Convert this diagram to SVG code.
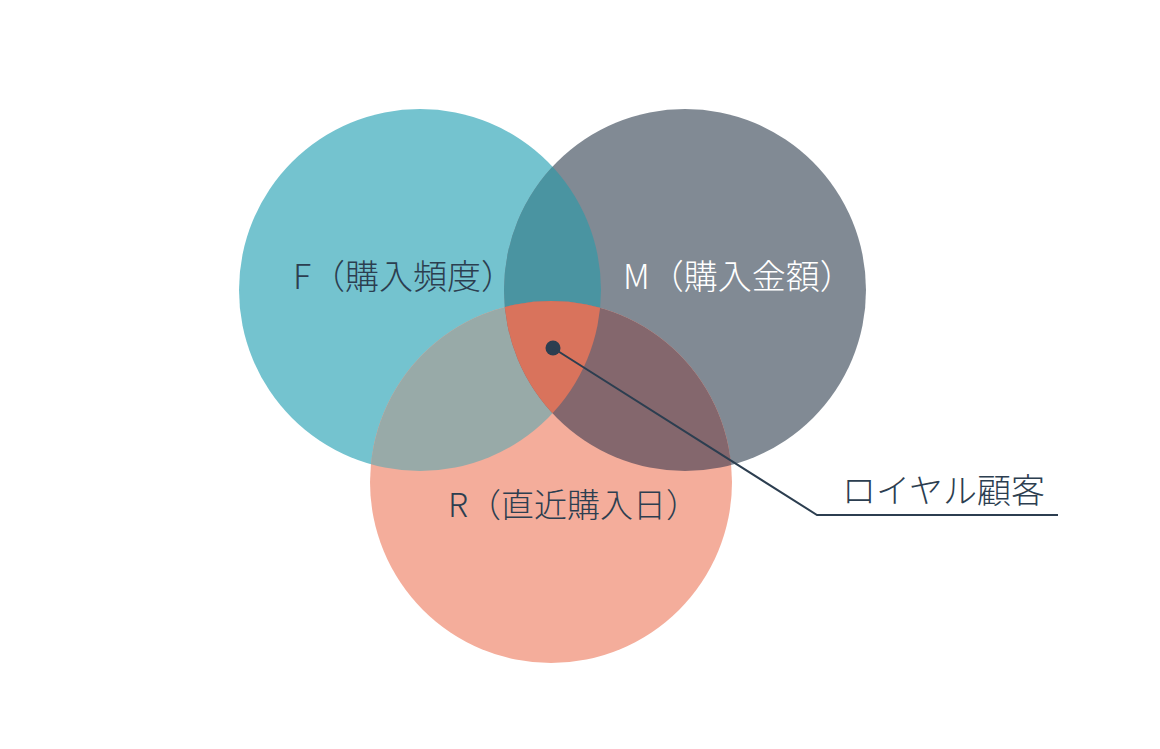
<svg xmlns="http://www.w3.org/2000/svg" width="1160" height="749" viewBox="0 0 1160 749">
<style>
.lbl{font-family:"Noto Sans CJK JP","Noto Sans",sans-serif;font-size:34px;font-weight:300}
.dark{fill:#2C3E50}
.light{fill:#FFFFFF}
</style>
<defs>
<clipPath id="cF"><circle cx="420" cy="290" r="181"/></clipPath>
<clipPath id="cM"><circle cx="685" cy="290" r="181"/></clipPath>
<clipPath id="cR"><circle cx="551" cy="482" r="181"/></clipPath>
</defs>
<rect width="1160" height="749" fill="#FFFFFF"/>
<g id="circle-F"><circle cx="420" cy="290" r="181" fill="#74C3CF"/></g>
<g id="circle-M"><circle cx="685" cy="290" r="181" fill="#818A94"/></g>
<g id="circle-R"><circle cx="551" cy="482" r="181" fill="#F4AD9B"/></g>
<g id="overlap-FM" clip-path="url(#cF)"><circle cx="685" cy="290" r="181" fill="#4A94A1"/></g>
<g id="overlap-FR" clip-path="url(#cF)"><circle cx="551" cy="482" r="181" fill="#98AAA8"/></g>
<g id="overlap-MR" clip-path="url(#cM)"><circle cx="551" cy="482" r="181" fill="#84676D"/></g>
<g id="overlap-FMR" clip-path="url(#cF)"><g clip-path="url(#cM)"><circle cx="551" cy="482" r="181" fill="#D9735C"/></g></g>
<g id="label-F"><text class="lbl dark" x="293" y="289">F（購入頻度）</text></g>
<g id="label-M"><text class="lbl light" x="623" y="289">M（購入金額）</text></g>
<g id="label-R"><text class="lbl dark" x="448" y="517" style="font-size:33px">R（直近購入日）</text></g>
<g id="connectors">
<circle cx="553" cy="348" r="7.5" fill="#2C3E50"/>
<polyline points="553,348 817,515 1058,515" fill="none" stroke="#2C3E50" stroke-width="2"/>
</g>
<g id="label-loyal"><text class="lbl dark" x="842" y="503">ロイヤル顧客</text></g>
</svg>
